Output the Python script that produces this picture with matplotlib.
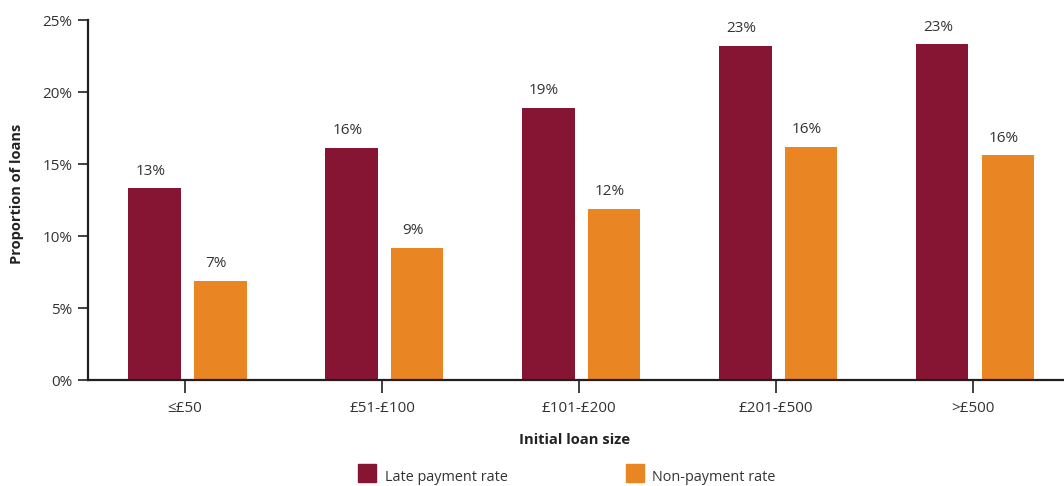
import matplotlib
matplotlib.use("Agg")
import matplotlib.pyplot as plt
from matplotlib.patches import Rectangle
import numpy as np

categories = ["≤£50", "£51-£100", "£101-£200", "£201-£500", ">£500"]
late_rate = [13.3, 16.1, 18.9, 23.2, 23.3]
non_payment_rate = [6.9, 9.2, 11.9, 16.2, 15.6]
series_names = ["Late payment rate", "Non-payment rate"]
y_ticks = [0, 5, 10, 15, 20, 25]

LATE = "#861433"
NON = "#E98523"
TEXT = "#333333"
AXIS = "#231f20"

plt.rcParams["font.family"] = ["Open Sans", "DejaVu Sans"]

fig = plt.figure(figsize=(10.64, 4.86), dpi=100)
ax = fig.add_axes([88 / 1064, 1 - 380 / 486, 1 - 88 / 1064, 360 / 486])

x = np.arange(len(categories))
w = 0.267
off = 0.167
b1 = ax.bar(x - off, late_rate, width=w, color=LATE, label=series_names[0])
b2 = ax.bar(x + off, non_payment_rate, width=w, color=NON, label=series_names[1])

for bars, vals in ((b1, late_rate), (b2, non_payment_rate)):
    for r, v in zip(bars, vals):
        ax.annotate(f"{v:.0f}%", (r.get_x() + r.get_width() / 2, v),
                    xytext=(-3, 7), textcoords="offset points",
                    ha="center", va="bottom", fontsize=11, color=TEXT)

ax.set_xlim(-0.505, 4.452)
ax.set_ylim(0, 25)
ax.set_xticks(x - 0.012)
ax.set_xticklabels(categories)
ax.set_yticks(y_ticks)
ax.set_yticklabels([f"{t}%" for t in y_ticks])

for s in ("top", "right"):
    ax.spines[s].set_visible(False)
for s in ("left", "bottom"):
    ax.spines[s].set_color(AXIS)
    ax.spines[s].set_linewidth(1.6)

ax.tick_params(axis="y", length=7, width=1.2, color=AXIS, labelsize=11,
               labelcolor=TEXT, pad=4)
ax.tick_params(axis="x", length=9, width=1.2, color=AXIS, labelsize=11,
               labelcolor=TEXT, pad=6)

ax.set_ylabel("Proportion of loans", fontsize=10.5, fontweight="bold",
              color="#222222", va="center")
ax.yaxis.set_label_coords(-(88 - 17) / 976, (380 - 193.5) / 360)
fig.text(575 / 1064, 1 - 440 / 486, "Initial loan size", ha="center",
         va="center", fontsize=10.6, fontweight="bold", color="#222222")

# legend drawn as swatches with labels below the axis title
for xs, xt, col, name in ((358, 385, LATE, series_names[0]),
                          (626, 652, NON, series_names[1])):
    fig.patches.append(Rectangle((xs / 1064, 1 - 482 / 486), 18 / 1064, 18 / 486,
                                 transform=fig.transFigure, color=col))
    fig.text(xt / 1064, 1 - 477 / 486, name, ha="left", va="center",
             fontsize=10.4, color=TEXT)

fig.savefig("out.png", dpi=100)
